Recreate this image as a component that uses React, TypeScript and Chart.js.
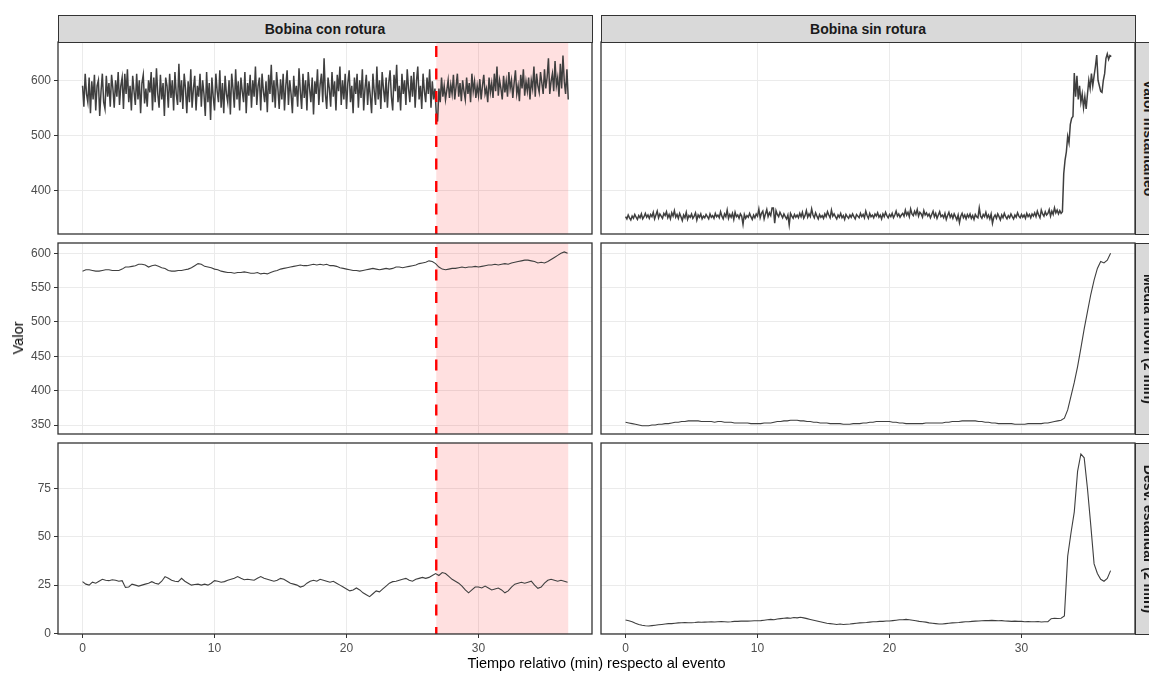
import React, { useEffect, useRef } from "react";
import { Chart, registerables } from "chart.js";

Chart.register(...registerables);

// ---------------- data ----------------
const RAW_STEP = 0.1; // minutes between raw samples
const SMOOTH_STEP = 0.25; // minutes between smoothed samples
const EVENT_TIME = 26.8;
const WINDOW_END = 36.8;

const COLUMN_LABELS = ["Bobina con rotura", "Bobina sin rotura"];
const ROW_LABELS = ["Valor instantáneo", "Media móvil (2 min)", "Desv. estándar (2 min)"];
const X_TITLE = "Tiempo relativo (min) respecto al evento";
const Y_TITLE = "Valor";

const X_TICKS = [0, 10, 20, 30];
const Y_TICKS_RAW = [400, 500, 600];
const Y_TICKS_MA = [350, 400, 450, 500, 550, 600];
const Y_TICKS_SD = [0, 25, 50, 75];

const X_RANGE = [-1.86, 38.6];
const Y_RANGE_RAW = [320.5, 669.6];
const Y_RANGE_MA = [336.9, 615];
const Y_RANGE_SD = [-0.36, 98.7];

const LEFT_RAW = [
  590, 552, 612, 575, 560, 605, 540, 598, 565, 610,
  545, 590, 600, 535, 580, 612, 560, 548, 608, 570,
  595, 552, 610, 585, 550, 600, 570, 615, 555, 590,
  605, 548, 612, 575, 620, 560, 590, 545, 608, 580,
  555, 612, 565, 600, 540, 595, 610, 558, 585, 552,
  600, 578, 615, 545, 605, 560, 622, 575, 550, 610,
  565, 595, 535, 605, 590, 550, 612, 568, 600, 545,
  615, 575, 555, 630, 560, 600, 548, 612, 585, 540,
  598, 560, 620, 550, 585, 608, 545, 590, 570, 612,
  552, 600, 575, 535, 615, 560, 595, 528, 605, 570,
  545, 612, 580, 560, 618, 550, 595, 540, 608, 575,
  560, 600, 538, 612, 585, 550, 620, 565, 598, 545,
  605, 580, 560, 615, 540, 595, 572, 610, 550, 600,
  570, 625, 555, 590, 605, 545, 612, 580, 560, 598,
  542, 610, 575, 628, 560, 600, 550, 615, 585, 548,
  602, 565, 612, 545, 590, 618, 555, 600, 575, 540,
  608, 570, 590, 552, 622, 580, 548, 612, 568, 600,
  545, 615, 585, 560, 605, 538, 598, 575, 620, 555,
  592, 612, 560, 640, 575, 548, 605, 585, 552, 615,
  570, 598, 545, 610, 580, 625, 555, 600, 565, 612,
  548, 595, 618, 560, 590, 540, 605, 575, 612, 550,
  600, 568, 620, 545, 585, 610, 555, 598, 572, 540,
  612, 580, 555, 625, 565, 600, 548, 615, 585, 560,
  605, 550, 595, 618, 570, 545, 610, 580, 628, 560,
  590, 545, 612, 575, 600, 555, 620, 585, 560, 608,
  570, 615, 550, 598, 625, 565, 590, 548, 612, 580,
  560, 605, 575, 620, 550, 598, 565, 585, 540, 525,
  585, 560, 605, 570, 590, 565, 582, 600, 568, 592,
  575, 610, 565, 588, 612, 570, 595, 562, 600, 580,
  565, 605, 575, 595, 560, 612, 580, 598, 568, 590,
  572, 602, 565, 590, 610, 575, 585, 560, 605, 578,
  595, 568, 612, 580, 625, 572, 600, 585, 565, 608,
  578, 598, 570, 615, 585, 600, 568, 595, 618, 575,
  590, 562, 610, 585, 620, 572, 598, 580, 605, 565,
  600, 585, 625, 570, 612, 590, 578, 615, 595, 575,
  620, 585, 605, 640, 575, 598, 612, 580, 635, 590,
  605, 570, 630, 585, 645, 598, 575, 620, 565,
];

const RIGHT_RAW = [
  352, 348, 355, 350, 346, 353, 349, 356, 351, 347,
  354, 350, 357, 348, 352, 358, 351, 355, 349, 356,
  352, 360, 348, 355, 362, 350, 357, 353, 349, 358,
  354, 361, 350, 356, 348, 359, 353, 363, 351, 356,
  349, 358, 352, 345, 355, 350, 360, 347, 354, 351,
  357, 349, 353, 359, 346, 355, 351, 357, 348, 353,
  350, 356, 352, 348, 357, 351, 354, 349, 358, 352,
  355, 350, 361, 353, 348, 357, 352, 364, 349, 356,
  351, 358, 347, 360, 352, 355, 349, 357, 353, 338,
  356, 349, 354, 351, 358, 352, 347, 355, 350, 357,
  353, 366, 350, 358, 362, 348, 357, 365, 352, 359,
  354, 368, 368, 340, 363, 356, 352, 360, 355, 350,
  357, 352, 348, 355, 337, 358, 353, 349, 356, 351,
  355, 350, 358, 352, 360, 349, 354, 363, 351, 357,
  352, 366, 355, 350, 359, 353, 348, 356, 351, 354,
  349, 357, 352, 361, 355, 350, 364, 353, 357, 352,
  348, 355, 351, 358, 350, 354, 347, 356, 352, 349,
  355, 351, 357, 352, 348, 356, 353, 350, 358, 352,
  356, 350, 362, 354, 349, 358, 352, 355, 350, 357,
  353, 359, 351, 355, 348, 357, 352, 360, 354, 350,
  356, 352, 358, 350, 355, 362, 353, 357, 351, 355,
  358, 353, 364, 355, 360, 352, 366, 357, 354, 362,
  356, 365, 353, 360, 357, 351, 363, 355, 359, 353,
  357, 350, 356, 362, 352, 358, 349, 355, 361, 352,
  355, 350, 358, 347, 354, 360, 351, 356, 349, 357,
  352, 346, 355, 341, 353, 358, 350, 355, 348, 356,
  351, 357, 349, 354, 347, 356, 352, 350, 368, 353,
  349, 356, 352, 360, 350, 355, 348, 357, 340, 351,
  355, 349, 357, 352, 346, 355, 350, 358, 352, 348,
  354, 350, 357, 352, 348, 355, 351, 359, 353, 350,
  356, 351, 355, 349, 358, 352, 356, 350, 357, 353,
  359, 352, 362, 355, 350, 364, 357, 353, 361, 355,
  358, 365, 353, 362, 356, 368, 359, 364, 357, 363,
  358, 361, 430, 455, 470, 498, 486, 520, 531, 534,
  613, 570, 608, 565, 590, 560, 575, 550, 570, 548,
  575, 600, 585, 612, 590, 608, 625, 646, 600, 590,
  580, 578, 600, 612, 640, 648, 638, 645, 643,
];

const LEFT_MA = [
  574, 576, 576, 575, 574, 574, 575, 576, 576, 575, 575, 575,
  577, 580, 580, 581, 582, 584, 584, 583, 580, 582, 583, 581,
  579, 578, 575, 574, 574, 575, 575, 576, 577, 579, 582, 585,
  584, 581, 580, 579, 577, 576, 574, 573, 572, 572, 571, 572,
  572, 573, 572, 571, 571, 572, 570, 571, 570, 572, 574, 575,
  577, 578, 579, 580, 581, 582, 583, 582, 582, 583, 584, 583,
  584, 583, 584, 582, 582, 581, 579, 578, 577, 576, 575, 575,
  574, 575, 576, 577, 578, 577, 576, 577, 578, 577, 578, 580,
  580, 579, 580, 581, 582, 583, 585, 586, 587, 589, 588, 585,
  580, 577, 576, 577, 578, 578, 579, 580, 579, 580, 580, 581,
  580, 581, 582, 583, 583, 584, 583, 584, 585, 584, 586, 587,
  588, 589, 590, 590, 589, 588, 586, 587, 586, 588, 591, 594,
  597, 600, 602, 600,
];

const RIGHT_MA = [
  354, 353, 352, 351, 350, 349, 349, 349, 350, 350, 351, 351,
  352, 352, 353, 354, 354, 355, 355, 356, 356, 356, 356, 355,
  355, 355, 355, 354, 355, 355, 354, 354, 354, 353, 353, 353,
  353, 353, 352, 352, 352, 352, 353, 353, 353, 354, 355, 355,
  356, 356, 357, 357, 357, 356, 356, 355, 355, 354, 354, 353,
  353, 353, 352, 352, 352, 352, 351, 351, 351, 352, 352, 352,
  353, 353, 354, 354, 355, 355, 355, 355, 355, 354, 354, 353,
  353, 352, 352, 352, 352, 352, 352, 353, 353, 353, 353, 353,
  353, 354, 354, 355, 355, 355, 356, 356, 356, 356, 356, 355,
  355, 354, 354, 353, 353, 352, 352, 352, 352, 352, 351, 351,
  351, 351, 352, 352, 352, 352, 352, 353, 353, 354, 355, 356,
  357, 360, 372, 392, 412, 435, 462, 490, 515, 540, 561, 578,
  588, 586, 590, 600,
];

const LEFT_SD = [
  26.8, 25.5, 25.0, 26.5, 26.0, 27.0, 28.0, 27.5, 27.3, 27.8, 27.5, 27.0,
  27.3, 23.8, 24.0, 25.5, 25.0, 24.5, 25.0, 25.5, 26.0, 26.8, 26.0, 25.5,
  27.0, 29.4, 28.5, 27.5, 27.0, 26.8, 28.5, 27.0, 26.0, 25.0, 25.3, 25.5,
  25.0, 25.5, 25.0, 26.0, 27.3, 27.0, 26.5, 26.8, 27.5, 28.0, 28.5, 29.4,
  28.5, 27.8, 28.0, 27.8, 27.5, 28.5, 29.4, 28.5, 28.0, 27.5, 27.0, 27.5,
  28.5, 28.0, 27.0, 26.0, 25.5, 25.0, 24.0, 24.5, 26.0, 27.0, 27.5, 27.0,
  28.0, 27.5, 27.0, 26.5, 27.0, 26.0, 25.0, 24.0, 23.0, 22.0, 22.5, 23.5,
  22.5, 21.0, 20.0, 19.0, 20.5, 22.0, 21.5, 23.0, 24.5, 26.0, 26.8, 27.0,
  27.5, 28.0, 28.5, 27.5, 27.0, 28.0, 28.5, 29.0, 28.5, 29.0, 30.0, 31.0,
  30.0, 31.5, 31.0, 29.5, 28.0, 27.0, 26.0, 24.5, 22.5, 21.0, 22.5, 24.0,
  24.0, 23.5, 24.5, 23.5, 22.5, 23.0, 23.5, 22.5, 21.0, 22.0, 24.0, 25.5,
  26.0, 26.5, 26.0, 26.5, 27.0, 25.0, 23.3, 24.0, 26.0, 27.5, 28.0, 27.5,
  27.0, 27.5, 27.0, 26.5,
];

const RIGHT_SD = [
  6.9, 6.5, 6.0, 5.2, 4.6, 4.2, 3.9, 3.8, 4.0, 4.2, 4.4, 4.6,
  4.8, 5.0, 5.0, 5.2, 5.4, 5.5, 5.6, 5.5, 5.5, 5.6, 5.8, 5.7,
  5.8, 5.9, 6.0, 5.9, 6.0, 6.1, 6.0, 5.9, 6.0, 6.2, 6.2, 6.3,
  6.4, 6.3, 6.4, 6.5, 6.5, 6.6, 6.8, 7.0, 7.2, 7.0, 7.4, 7.6,
  7.8, 8.0, 7.8, 8.2, 8.0, 8.3, 8.0, 7.6, 7.2, 6.8, 6.4, 6.0,
  5.6, 5.2, 5.0, 4.8, 4.6, 4.8, 4.6, 4.7, 4.8, 5.0, 5.2, 5.4,
  5.5, 5.6, 5.8, 6.0, 6.0, 6.2, 6.2, 6.4, 6.4, 6.6, 6.8, 7.0,
  7.0, 7.2, 7.0, 6.8, 6.5, 6.2, 6.0, 5.8, 5.4, 5.2, 5.0, 4.8,
  4.8, 5.0, 5.2, 5.4, 5.5, 5.6, 5.8, 6.0, 6.0, 6.2, 6.3, 6.4,
  6.5, 6.6, 6.6, 6.7, 6.6, 6.5, 6.6, 6.4, 6.3, 6.2, 6.3, 6.2,
  6.2, 6.0, 6.1, 6.0, 6.0, 6.1, 5.9, 6.0, 6.0, 7.6, 7.8, 7.7,
  7.8, 9.0, 40.0, 52.0, 63.0, 84.0, 93.0, 91.0, 75.0, 56.0, 36.0, 31.0,
  28.0, 27.0, 28.5, 32.5,
];

const SERIES = [
  [LEFT_RAW, RIGHT_RAW],
  [LEFT_MA, RIGHT_MA],
  [LEFT_SD, RIGHT_SD],
];
const STEPS = [RAW_STEP, SMOOTH_STEP, SMOOTH_STEP];
const ROW_TICKS = [Y_TICKS_RAW, Y_TICKS_MA, Y_TICKS_SD];
const ROW_RANGES = [Y_RANGE_RAW, Y_RANGE_MA, Y_RANGE_SD];

// ---------------- layout / style ----------------
const FONT = "'Liberation Sans', Arial, Helvetica, sans-serif";
const PAGE_W = 1149;
const PAGE_H = 673;
const COL_X = [
  [58, 592],
  [601, 1135],
];
const ROW_Y = [
  [42, 234],
  [243, 434],
  [443, 634],
];
const LINE_COLOR = "#3F3F3F";
const GRID_COLOR = "#EBEBEB";
const BORDER_COLOR = "#333333";
const STRIP_BG = "#D9D9D9";

const panelDecor = {
  id: "panelDecor",
  beforeDatasetsDraw(chart: any, _args: any, opts: any) {
    if (!opts || !opts.event) return;
    const { ctx, chartArea: a } = chart;
    const x = chart.scales.x;
    const x0 = x.getPixelForValue(EVENT_TIME);
    const x1 = x.getPixelForValue(WINDOW_END);
    ctx.save();
    ctx.fillStyle = "rgba(255,0,0,0.12)";
    ctx.fillRect(x0, a.top, x1 - x0, a.bottom - a.top);
    ctx.restore();
  },
  afterDatasetsDraw(chart: any, _args: any, opts: any) {
    if (!opts || !opts.event) return;
    const { ctx, chartArea: a } = chart;
    const x = chart.scales.x;
    const xp = x.getPixelForValue(EVENT_TIME);
    ctx.save();
    ctx.beginPath();
    ctx.rect(a.left, a.top, a.right - a.left, a.bottom - a.top);
    ctx.clip();
    ctx.strokeStyle = "#FF0000";
    ctx.lineWidth = 2.4;
    ctx.setLineDash([11, 11.5]);
    ctx.lineDashOffset = 18.5;
    ctx.beginPath();
    ctx.moveTo(xp, a.top);
    ctx.lineTo(xp, a.bottom);
    ctx.stroke();
    ctx.restore();
  },
  afterDraw(chart: any) {
    const { ctx, chartArea: a } = chart;
    ctx.save();
    ctx.strokeStyle = BORDER_COLOR;
    ctx.lineWidth = 1.3;
    ctx.strokeRect(a.left, a.top, a.right - a.left, a.bottom - a.top);
    ctx.restore();
  },
};

function zeroPad(s: any) {
  s.paddingLeft = 0;
  s.paddingRight = 0;
  s.paddingTop = 0;
  s.paddingBottom = 0;
}

function Panel({ row, col }: { row: number; col: number }) {
  const ref = useRef<HTMLCanvasElement | null>(null);
  const [L, R] = COL_X[col];
  const [T, B] = ROW_Y[row];
  const hasY = col === 0;
  const hasX = row === 2;
  const cLeft = hasY ? 0 : L - 2;
  const cTop = T - 2;
  const cRight = R + 2;
  const cBottom = hasX ? PAGE_H : B + 2;
  const w = cRight - cLeft;
  const h = cBottom - cTop;

  useEffect(() => {
    const values = SERIES[row][col];
    const step = STEPS[row];
    const pts = values.map((v, i) => ({ x: Math.round(i * step * 100) / 100, y: v }));
    const tickFont = { family: FONT, size: 12 };
    const chart = new Chart(ref.current as HTMLCanvasElement, {
      type: "line",
      data: {
        datasets: [
          {
            data: pts,
            borderColor: LINE_COLOR,
            borderWidth: row === 0 ? 1.5 : 1.1,
            pointRadius: 0,
            tension: 0,
            fill: false,
          },
        ],
      },
      options: {
        animation: false,
        responsive: false,
        events: [],
        layout: {
          padding: { left: hasY ? 0 : 2, top: 2, right: 2, bottom: hasX ? 0 : 2 },
        },
        plugins: {
          legend: { display: false },
          tooltip: { enabled: false },
          panelDecor: { event: col === 0 },
        } as any,
        scales: {
          x: {
            type: "linear",
            position: "bottom",
            min: X_RANGE[0],
            max: X_RANGE[1],
            afterBuildTicks: (s: any) => {
              s.ticks = X_TICKS.map((v) => ({ value: v }));
            },
            afterFit: (s: any) => {
              s.height = hasX ? PAGE_H - B : 0;
              zeroPad(s);
            },
            grid: {
              color: GRID_COLOR,
              lineWidth: 1,
              drawTicks: hasX,
              tickLength: 4,
              tickColor: BORDER_COLOR,
              tickWidth: 1,
            },
            border: { display: false },
            ticks: {
              display: hasX,
              color: "#4D4D4D",
              font: tickFont,
              padding: 3,
              maxRotation: 0,
              autoSkip: false,
              callback: (v: any) => String(v),
            },
          },
          y: {
            type: "linear",
            position: "left",
            min: ROW_RANGES[row][0],
            max: ROW_RANGES[row][1],
            afterBuildTicks: (s: any) => {
              s.ticks = ROW_TICKS[row].map((v) => ({ value: v }));
            },
            afterFit: (s: any) => {
              s.width = hasY ? L : 0;
              zeroPad(s);
            },
            grid: {
              color: GRID_COLOR,
              lineWidth: 1,
              drawTicks: hasY,
              tickLength: 4,
              tickColor: BORDER_COLOR,
              tickWidth: 1,
            },
            border: { display: false },
            ticks: {
              display: hasY,
              color: "#4D4D4D",
              font: tickFont,
              padding: 3,
              autoSkip: false,
              callback: (v: any) => String(v),
            },
          },
        },
      } as any,
      plugins: [panelDecor as any],
    });
    return () => chart.destroy();
  }, [row, col]);

  return (
    <canvas
      ref={ref}
      width={w}
      height={h}
      style={{ position: "absolute", left: cLeft, top: cTop, width: w, height: h, display: "block" }}
    />
  );
}

const stripText: React.CSSProperties = {
  fontFamily: FONT,
  fontWeight: "bold",
  fontSize: 14,
  color: "#1A1A1A",
  whiteSpace: "nowrap",
};

export default function App() {
  const panels: JSX.Element[] = [];
  for (let r = 0; r < 3; r++) {
    for (let c = 0; c < 2; c++) {
      panels.push(<Panel key={`${r}-${c}`} row={r} col={c} />);
    }
  }
  return (
    <div
      style={{
        position: "absolute",
        left: 0,
        top: 0,
        width: PAGE_W,
        height: PAGE_H,
        overflow: "hidden",
        background: "#FFFFFF",
      }}
    >
      {panels}
      {COLUMN_LABELS.map((lab, c) => (
        <div
          key={lab}
          style={{
            position: "absolute",
            left: COL_X[c][0] - 0.5,
            top: 15,
            width: COL_X[c][1] - COL_X[c][0] + 1,
            height: 28,
            background: STRIP_BG,
            border: `1.3px solid ${BORDER_COLOR}`,
            boxSizing: "border-box",
            display: "flex",
            alignItems: "center",
            justifyContent: "center",
          }}
        >
          <span style={stripText}>{lab}</span>
        </div>
      ))}
      {ROW_LABELS.map((lab, r) => (
        <div
          key={lab}
          style={{
            position: "absolute",
            left: 1134.5,
            top: ROW_Y[r][0] - 0.5,
            width: 28,
            height: ROW_Y[r][1] - ROW_Y[r][0] + 1,
            background: STRIP_BG,
            border: `1.3px solid ${BORDER_COLOR}`,
            boxSizing: "border-box",
          }}
        >
          <span
            style={{
              ...stripText,
              position: "absolute",
              left: "50%",
              top: "50%",
              transform: "translate(-50%, -50%) rotate(90deg)",
            }}
          >
            {lab}
          </span>
        </div>
      ))}
      <div
        style={{
          position: "absolute",
          left: 18,
          top: 338,
          transform: "translate(-50%, -50%) rotate(-90deg)",
          fontFamily: FONT,
          fontSize: 14.5,
          color: "#000000",
          whiteSpace: "nowrap",
        }}
      >
        {Y_TITLE}
      </div>
      <div
        style={{
          position: "absolute",
          left: 596.5,
          top: 663,
          transform: "translate(-50%, -50%)",
          fontFamily: FONT,
          fontSize: 14.5,
          color: "#000000",
          whiteSpace: "nowrap",
        }}
      >
        {X_TITLE}
      </div>
    </div>
  );
}
